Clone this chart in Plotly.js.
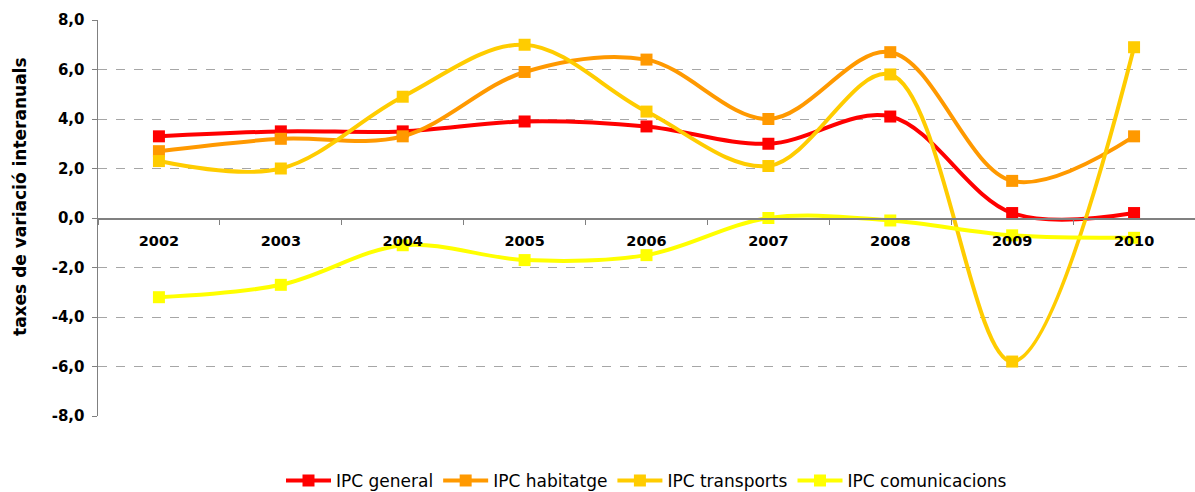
<!DOCTYPE html>
<html><head><meta charset="utf-8">
<script src="https://cdn.plot.ly/plotly-3.0.1.min.js"></script>
<style>html,body{margin:0;padding:0;background:#fff}#chart{width:1195px;height:492px}</style>
</head><body><div id="chart"></div>
<script>
const years = ['2002','2003','2004','2005','2006','2007','2008','2009','2010'];
const ipcGeneral = [3.3, 3.5, 3.5, 3.9, 3.7, 3.0, 4.1, 0.2, 0.2];
const ipcHabitatge = [2.7, 3.2, 3.3, 5.9, 6.4, 4.0, 6.7, 1.5, 3.3];
const ipcTransports = [2.3, 2.0, 4.9, 7.0, 4.3, 2.1, 5.8, -5.8, 6.9];
const ipcComunicacions = [-3.2, -2.7, -1.1, -1.7, -1.5, 0.0, -0.1, -0.7, -0.8];
const yTickVals = [-8, -6, -4, -2, 0, 2, 4, 6, 8];
const yTickText = ['-8,0','-6,0','-4,0','-2,0','0,0','2,0','4,0','6,0','8,0'];
const names = ['IPC general','IPC habitatge','IPC transports','IPC comunicacions'];
const yTitle = 'taxes de variació interanuals';
const colors = ['#FF0000','#FF9900','#FFCC00','#FFFF00'];
const series = [ipcGeneral, ipcHabitatge, ipcTransports, ipcComunicacions];
const FONT = 'DejaVu Sans, Liberation Sans, Arial, sans-serif';
const traces = series.map((s,i)=>({
  x: years, y: s, name: names[i], type:'scatter', mode:'lines+markers',
  line:{color:colors[i], width:4, shape:'spline', smoothing:1},
  marker:{symbol:'square', size:12, color:colors[i]}
}));
const layout = {
  width:1195, height:492,
  margin:{l:98, r:0, t:20, b:76, autoexpand:false},
  paper_bgcolor:'#fff', plot_bgcolor:'#fff',
  font:{family:FONT, color:'#000'},
  showlegend:true,
  legend:{orientation:'h', x:0.5, xanchor:'center', y:-0.164, yanchor:'middle',
    font:{size:17, family:FONT}, tracegroupgap:0, itemwidth:45},
  xaxis:{type:'category', anchor:'free', position:0.5, showline:true, linecolor:'#808080', linewidth:1.5,
    ticks:'outside', ticklen:5, tickcolor:'#808080', tickson:'boundaries', showgrid:false, zeroline:false,
    tickfont:{size:14.5, family:FONT, weight:'bold'}, ticklabelstandoff:9,
    range:[-0.5, 8.5], fixedrange:true},
  yaxis:{range:[-8,8], tickmode:'array', tickvals:yTickVals, ticktext:yTickText,
    showline:true, linecolor:'#808080', linewidth:1.5,
    ticks:'outside', ticklen:5, tickcolor:'#808080', showgrid:true, gridcolor:'#A6A6A6', griddash:'dash', gridwidth:1,
    zeroline:false, ticklabelstandoff:4,
    tickfont:{size:15, family:FONT, weight:'bold'}},
  annotations:[{text:yTitle, xref:'paper', yref:'paper', x:(20-98)/1097, y:(416-197)/396,
    xanchor:'center', yanchor:'middle', textangle:-90, showarrow:false,
    font:{size:17, family:FONT, weight:'bold', color:'#000'}}]
};
Plotly.newPlot('chart', traces, layout, {displayModeBar:false, staticPlot:true});
</script></body></html>
